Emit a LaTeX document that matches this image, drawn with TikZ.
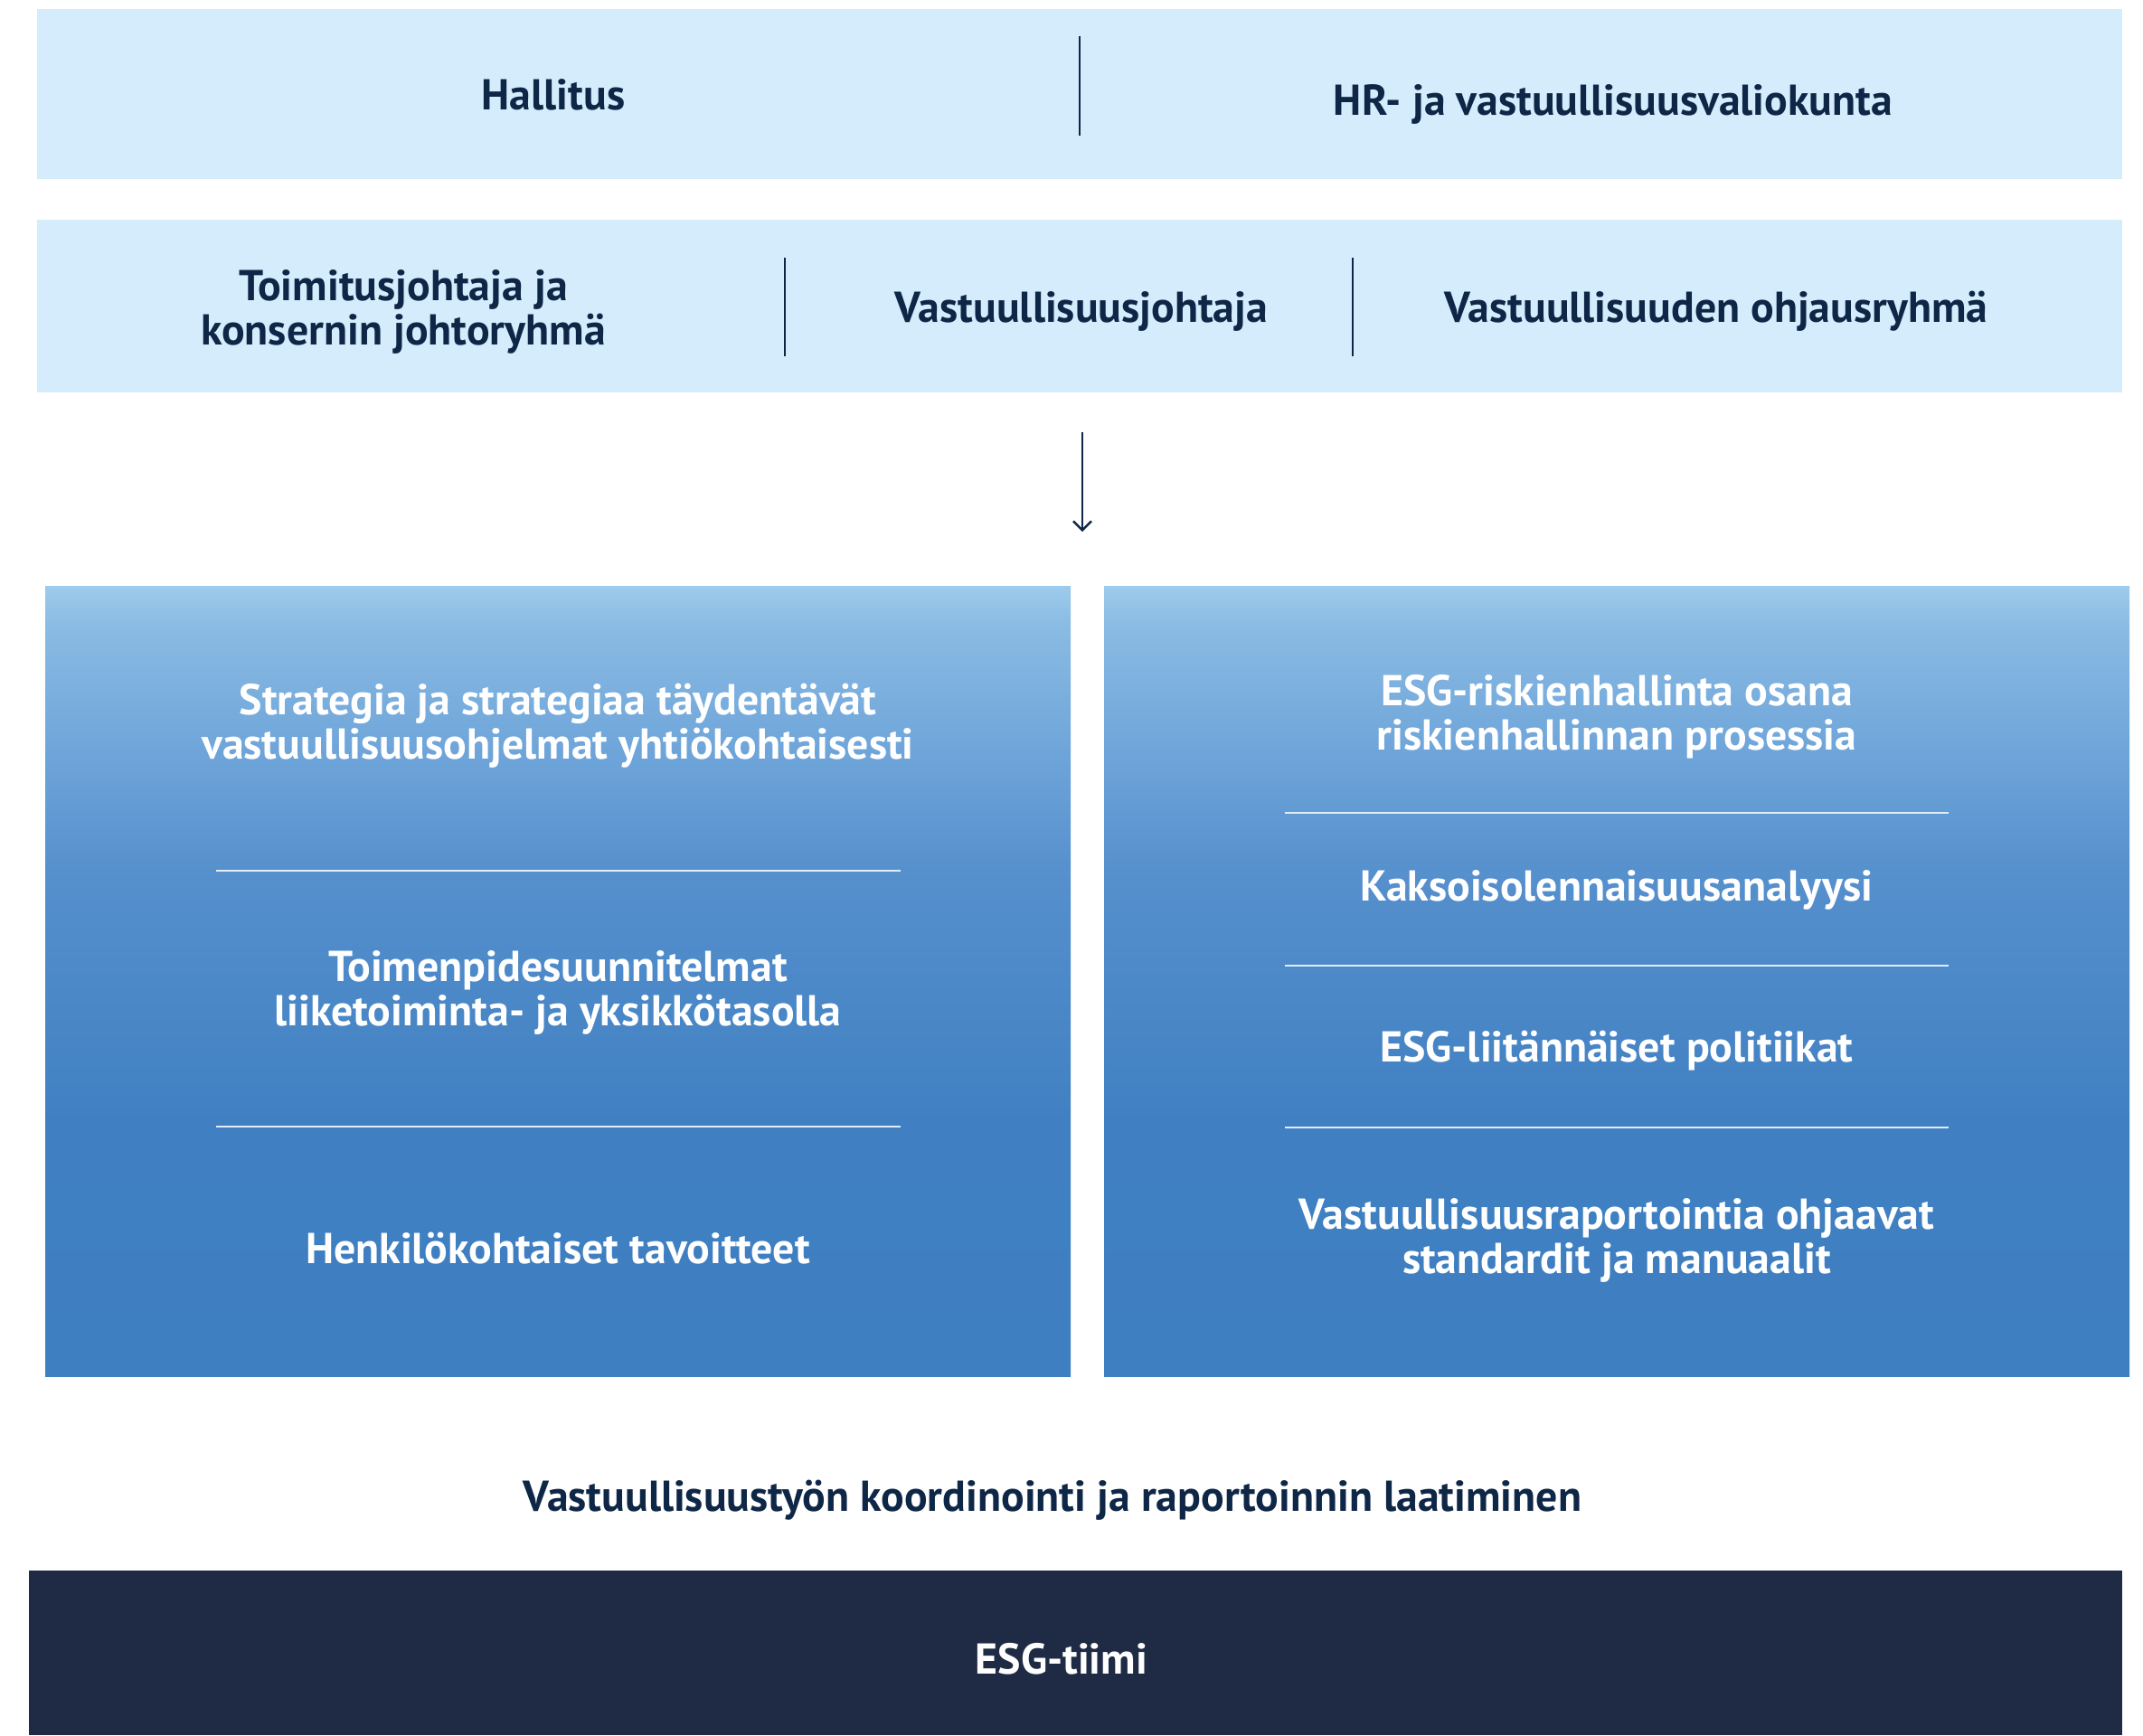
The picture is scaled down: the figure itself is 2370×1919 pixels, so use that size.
\documentclass[tikz,border=0pt]{standalone}
\usepackage{fontspec}
\setmainfont{PT Sans}
\usetikzlibrary{arrows.meta}
\definecolor{bandfill}{HTML}{D4ECFB}
\definecolor{navy}{HTML}{0F2747}
\definecolor{esgfill}{HTML}{1F2B45}
\definecolor{sepcol}{HTML}{E2EDF8}
\definecolor{gradT}{HTML}{9CCBEC}
\definecolor{gradA}{HTML}{8ABBE3}
\definecolor{gradA2}{HTML}{70A6DA}
\definecolor{gradB}{HTML}{5690CD}
\definecolor{gradC}{HTML}{4080C2}
\definecolor{gradD}{HTML}{3E7FC1}
\pgfdeclareverticalshading{boxgrad}{100bp}{color(0bp)=(gradD); color(25bp)=(gradD); color(41bp)=(gradC); color(57bp)=(gradB); color(65bp)=(gradA2); color(72.5bp)=(gradA); color(75bp)=(gradT); color(100bp)=(gradT)}
\begin{document}
\begin{tikzpicture}[x=0.5pt,y=-0.5pt,
  txt/.style={font=\bfseries\fontsize{23.9}{24.5}\selectfont, text=navy, inner sep=0pt, anchor=base, align=center},
  wtxt/.style={txt, text=white},
  band/.style={fill=bandfill, draw=none, inner sep=0pt, outer sep=0pt},
  gradbox/.style={shading=boxgrad, shading angle=0, draw=none, inner sep=0pt, outer sep=0pt, minimum width=567pt, minimum height=437pt},
  divider/.style={draw=navy, line width=1pt},
  sepline/.style={draw=sepcol, line width=0.8pt},
  flow/.style={draw=navy, line width=1.2pt, -{Straight Barb[length=5pt,width=10pt,line width=1.2pt]}}]
\useasboundingbox (0,0) rectangle (2370,1919);
% bands
\node[band, minimum width=1153pt, minimum height=94pt] (band1) at (1194,104) {};
\node[band, minimum width=1153pt, minimum height=95.5pt] (band2) at (1194,338.5) {};
\draw[divider] (1194,40) -- (1194,150);
\draw[divider] (868,285) -- (868,394);
\draw[divider] (1496,285) -- (1496,394);
\node[txt] (hallitus) at (612,121) {Hallitus};
\node[txt] (hr) at (1784,127) {HR- ja vastuullisuusvaliokunta};
\node[txt] (tj) at (446,381) {Toimitusjohtaja ja\\konsernin johtoryhmä};
\node[txt] (vj) at (1196,356) {Vastuullisuusjohtaja};
\node[txt] (vor) at (1898,356) {Vastuullisuuden ohjausryhmä};
% arrow
\coordinate (arrS) at (1197,478);
\coordinate (arrE) at (1197,588);
\draw[flow] (arrS) -- (arrE);
% gradient boxes
\node[gradbox] (leftbox) at (617,1085) {};
\node[gradbox] (rightbox) at (1788,1085) {};
\node[wtxt] (l1) at (617,839) {Strategia ja strategiaa täydentävät\\vastuullisuusohjelmat yhtiökohtaisesti};
\draw[sepline] (239,963) -- (996,963);
\node[wtxt] (l2) at (617,1134) {Toimenpidesuunnitelmat\\liiketoiminta- ja yksikkötasolla};
\draw[sepline] (239,1246) -- (996,1246);
\node[wtxt] (l3) at (617,1397) {Henkilökohtaiset tavoitteet};
\node[wtxt] (r1) at (1788,829) {ESG-riskienhallinta osana\\riskienhallinnan prosessia};
\draw[sepline] (1421,899) -- (2155,899);
\node[wtxt] (r2) at (1788,996) {Kaksoisolennaisuusanalyysi};
\draw[sepline] (1421,1068) -- (2155,1068);
\node[wtxt] (r3) at (1788,1174) {ESG-liitännäiset politiikat};
\draw[sepline] (1421,1247) -- (2155,1247);
\node[wtxt] (r4) at (1788,1408) {Vastuullisuusraportointia ohjaavat\\standardit ja manuaalit};
% bottom
\node[txt] (koord) at (1164,1671) {Vastuullisuustyön koordinointi ja raportoinnin laatiminen};
\node[fill=esgfill, draw=none, inner sep=0pt, minimum width=1157.5pt, minimum height=91pt] (esg) at (1189.5,1828) {};
\node[wtxt] (esgt) at (1174,1851) {ESG-tiimi};
\end{tikzpicture}
\end{document}
